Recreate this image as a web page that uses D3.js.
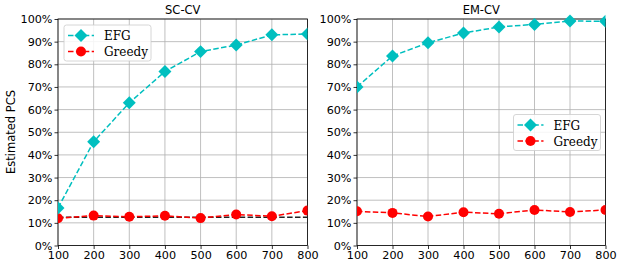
<!DOCTYPE html>
<html><head><meta charset="utf-8">
<script src="https://cdn.jsdelivr.net/npm/d3@7"></script>
<style>body{margin:0;background:#fff}</style>
</head><body>
<svg id="c" width="623" height="269"></svg>
<script>
const budgets = [100,200,300,400,500,600,700,800];
const yTicks = [0,10,20,30,40,50,60,70,80,90,100];
const scEFG = [16.6,45.8,63.0,76.8,85.6,88.5,93.0,93.4];
const scGreedy = [12.0,13.2,12.7,13.1,12.1,13.7,12.9,15.4];
const scBaseline = [12.5,12.5,12.5,12.5,12.5,12.5,12.5,12.5];
const emEFG = [70.0,83.7,89.5,93.8,96.5,97.6,99.1,99.0];
const emGreedy = [15.1,14.4,12.8,14.7,14.0,15.7,14.8,15.7];
const titles = ["SC-CV","EM-CV"];
const seriesNames = ["EFG","Greedy"];

const svg = d3.select("#c");
const panels = [
  {title:titles[0], x0:58, x1:307.5, efg:scEFG, greedy:scGreedy, base:scBaseline, legend:{x:64,y:25}},
  {title:titles[1], x0:357, x1:605.5, efg:emEFG, greedy:emGreedy, base:null, legend:{x:513.5,y:114.5}}
];
const plotTop=19, plotBottom=245.5;
const y = d3.scaleLinear().domain([0,100]).range([plotBottom,plotTop]);
const cyan="#00bfbf", red="#ff0000";
const diamond = d3.symbol().type(d3.symbolSquare).size(84);

panels.forEach((p,pi)=>{
  const x = d3.scaleLinear().domain([100,800]).range([p.x0,p.x1]);
  const g = svg.append("g");
  g.selectAll(".gx").data(budgets).enter().append("line")
    .attr("x1",d=>x(d)).attr("x2",d=>x(d)).attr("y1",plotTop).attr("y2",plotBottom)
    .attr("stroke","#b0b0b0").attr("stroke-width",0.8);
  g.selectAll(".gy").data(yTicks).enter().append("line")
    .attr("y1",d=>y(d)).attr("y2",d=>y(d)).attr("x1",p.x0).attr("x2",p.x1)
    .attr("stroke","#b0b0b0").attr("stroke-width",0.8);
  const ax = g.append("g").attr("transform",`translate(0,${plotBottom})`)
    .call(d3.axisBottom(x).tickValues(budgets).tickSize(3.5).tickPadding(2).tickFormat(d3.format("d")));
  const ay = g.append("g").attr("transform",`translate(${p.x0},0)`)
    .call(d3.axisLeft(y).tickValues(yTicks).tickSize(3.5).tickPadding(2).tickFormat(d=>d+"%"));
  [ax,ay].forEach(a=>{
    a.select(".domain").remove();
    a.selectAll("text").attr("font-family","DejaVu Sans").attr("font-size","11.2px").attr("fill","#000");
    a.selectAll("line").attr("stroke","#000").attr("stroke-width",0.8);
  });
  g.append("rect").attr("x",p.x0).attr("y",plotTop).attr("width",p.x1-p.x0).attr("height",plotBottom-plotTop)
    .attr("fill","none").attr("stroke","#000").attr("stroke-width",0.8);
  g.append("text").attr("x",(p.x0+p.x1)/2).attr("y",14).attr("text-anchor","middle")
    .attr("font-family","DejaVu Sans").attr("font-size","11.5px").text(p.title);

  const clip = "clip"+pi;
  svg.append("clipPath").attr("id",clip).append("rect")
    .attr("x",p.x0).attr("y",plotTop-8).attr("width",p.x1-p.x0).attr("height",plotBottom-plotTop+8);
  const pl = g.append("g").attr("clip-path",`url(#${clip})`);
  const line = d3.line().x((d,i)=>x(budgets[i])).y(d=>y(d));
  if(p.base){
    pl.append("path").attr("d",line(p.base)).attr("fill","none").attr("stroke","#222")
      .attr("stroke-width",1.5).attr("stroke-dasharray","5.5,2.4");
  }
  pl.append("path").attr("d",line(p.greedy)).attr("fill","none").attr("stroke",red)
    .attr("stroke-width",1.5).attr("stroke-dasharray","5.5,2.4");
  pl.selectAll(".gc").data(p.greedy).enter().append("circle")
    .attr("cx",(d,i)=>x(budgets[i])).attr("cy",d=>y(d)).attr("r",5).attr("fill",red);
  pl.append("path").attr("d",line(p.efg)).attr("fill","none").attr("stroke",cyan)
    .attr("stroke-width",1.5).attr("stroke-dasharray","5.5,2.4");
  pl.selectAll(".ed").data(p.efg).enter().append("path")
    .attr("d",diamond).attr("transform",(d,i)=>`translate(${x(budgets[i])},${y(d)}) rotate(45)`).attr("fill",cyan);

  const L = g.append("g").attr("transform",`translate(${p.legend.x},${p.legend.y})`);
  L.append("rect").attr("width",87).attr("height",36).attr("rx",2.5)
    .attr("fill","#fff").attr("fill-opacity",0.85).attr("stroke","#ccc").attr("stroke-width",0.8);
  const items=[{n:seriesNames[0],c:cyan,t:"d"},{n:seriesNames[1],c:red,t:"c"}];
  items.forEach((it,i)=>{
    const yy = 10.5+i*16;
    L.append("line").attr("x1",4).attr("x2",30).attr("y1",yy).attr("y2",yy)
      .attr("stroke",it.c).attr("stroke-width",1.5).attr("stroke-dasharray","5.5,2.4");
    if(it.t==="d") L.append("path").attr("d",diamond).attr("transform",`translate(17,${yy}) rotate(45)`).attr("fill",it.c);
    else L.append("circle").attr("cx",17).attr("cy",yy).attr("r",5).attr("fill",it.c);
    L.append("text").attr("x",40).attr("y",yy+4.5).attr("font-family","DejaVu Serif")
      .attr("font-size","12px").text(it.n);
  });
});
svg.append("text").attr("transform","translate(15,132) rotate(-90)").attr("text-anchor","middle")
  .attr("font-family","DejaVu Sans").attr("font-size","11.5px").text("Estimated PCS");
</script>
</body></html>
